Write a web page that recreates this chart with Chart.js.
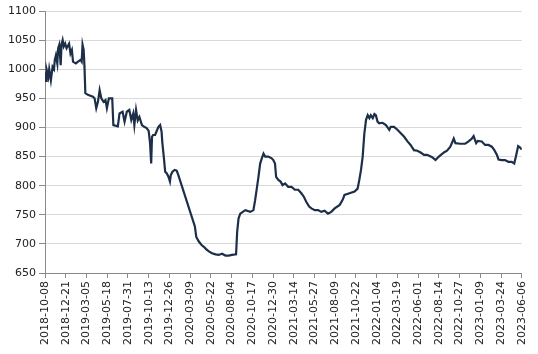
<!DOCTYPE html>
<html>
<head>
<meta charset="utf-8">
<script src="https://cdn.jsdelivr.net/npm/chart.js@4.4.1/dist/chart.umd.min.js"></script>
<style>
  html, body { margin: 0; padding: 0; background: #fff; }
  #chart { display: block; }
</style>
</head>
<body>
<canvas id="chart" width="538" height="354"></canvas>
<script>
// tick labels on the date axis (every 74 days)
const tickDates = [
  "2018-10-08", "2018-12-21", "2019-03-05", "2019-05-18", "2019-07-31", "2019-10-13",
  "2019-12-26", "2020-03-09", "2020-05-22", "2020-08-04", "2020-10-17", "2020-12-30",
  "2021-03-14", "2021-05-27", "2021-08-09", "2021-10-22", "2022-01-04", "2022-03-19",
  "2022-06-01", "2022-08-14", "2022-10-27", "2023-01-09", "2023-03-24", "2023-06-06"
];

const dates = [
  "2018-10-08", "2018-10-12", "2018-10-14", "2018-10-20", "2018-10-23", "2018-10-29",
  "2018-11-04", "2018-11-09", "2018-11-12", "2018-11-16", "2018-11-21", "2018-11-24",
  "2018-11-28", "2018-12-03", "2018-12-06", "2018-12-10", "2018-12-14", "2018-12-19",
  "2018-12-24", "2019-01-02", "2019-01-07", "2019-01-12", "2019-01-16", "2019-01-26",
  "2019-02-03", "2019-02-12", "2019-02-16", "2019-02-19", "2019-02-23", "2019-02-26",
  "2019-03-01", "2019-03-10", "2019-03-28", "2019-04-03", "2019-04-09", "2019-04-15",
  "2019-04-21", "2019-04-27", "2019-05-05", "2019-05-12", "2019-05-17", "2019-05-24",
  "2019-06-05", "2019-06-09", "2019-06-25", "2019-07-01", "2019-07-12", "2019-07-19",
  "2019-07-27", "2019-08-05", "2019-08-12", "2019-08-19", "2019-08-23", "2019-08-29",
  "2019-09-04", "2019-09-10", "2019-09-19", "2019-09-27", "2019-10-06", "2019-10-13",
  "2019-10-18", "2019-10-22", "2019-10-25", "2019-10-29", "2019-11-05", "2019-11-10",
  "2019-11-17", "2019-11-23", "2019-11-28", "2019-12-01", "2019-12-06", "2019-12-11",
  "2019-12-17", "2019-12-23", "2019-12-28", "2019-12-31", "2020-01-06", "2020-01-14",
  "2020-01-21", "2020-01-27", "2020-03-26", "2020-03-31", "2020-04-09", "2020-04-19",
  "2020-04-27", "2020-05-05", "2020-05-15", "2020-05-26", "2020-06-08", "2020-06-19",
  "2020-07-01", "2020-07-13", "2020-07-25", "2020-08-05", "2020-08-20", "2020-08-24",
  "2020-08-29", "2020-09-04", "2020-09-22", "2020-10-10", "2020-10-21", "2020-10-27",
  "2020-11-02", "2020-11-08", "2020-11-14", "2020-11-20", "2020-11-26", "2020-12-02",
  "2020-12-13", "2020-12-25", "2020-12-31", "2021-01-06", "2021-01-10", "2021-01-18",
  "2021-01-26", "2021-02-02", "2021-02-11", "2021-02-22", "2021-03-06", "2021-03-18",
  "2021-03-30", "2021-04-10", "2021-04-19", "2021-04-28", "2021-05-08", "2021-05-16",
  "2021-05-28", "2021-06-09", "2021-06-20", "2021-07-02", "2021-07-14", "2021-07-26",
  "2021-08-07", "2021-08-25", "2021-09-05", "2021-09-11", "2021-09-29", "2021-10-17",
  "2021-10-28", "2021-11-03", "2021-11-09", "2021-11-15", "2021-11-21", "2021-11-27",
  "2021-12-03", "2021-12-09", "2021-12-14", "2021-12-21", "2021-12-27", "2022-01-01",
  "2022-01-07", "2022-01-13", "2022-01-25", "2022-02-06", "2022-02-18", "2022-02-23",
  "2022-03-07", "2022-03-19", "2022-03-31", "2022-04-12", "2022-04-24", "2022-05-05",
  "2022-05-17", "2022-05-29", "2022-06-10", "2022-06-22", "2022-07-03", "2022-07-21",
  "2022-08-02", "2022-08-14", "2022-09-01", "2022-09-12", "2022-09-24", "2022-10-06",
  "2022-10-12", "2022-10-29", "2022-11-16", "2022-11-28", "2022-12-10", "2022-12-16",
  "2022-12-25", "2022-12-31", "2023-01-14", "2023-01-26", "2023-02-07", "2023-02-19",
  "2023-02-28", "2023-03-09", "2023-03-15", "2023-03-26", "2023-04-07", "2023-04-19",
  "2023-05-01", "2023-05-10", "2023-05-16", "2023-05-24", "2023-05-30", "2023-06-06"
];

const values = [
  995, 980, 999, 987, 1000, 981,
  1004, 1000, 1016, 1024, 1010, 1036,
  1042, 1007, 1042, 1050, 1039, 1044,
  1036, 1044, 1027, 1033, 1013, 1010,
  1013, 1016, 1013, 1042, 1033, 1004,
  959, 956, 953, 950, 933, 944,
  964, 950, 944, 947, 933, 950,
  950, 904, 902, 924, 927, 910,
  927, 930, 913, 924, 904, 930,
  912, 918, 904, 901, 899, 894,
  873, 838, 884, 887, 887, 893,
  901, 904, 893, 873, 850, 824,
  821, 815, 807, 818, 824, 827,
  826, 818, 730, 712, 704, 698,
  695, 691, 687, 684, 682, 681,
  683, 680, 680, 681, 682, 721,
  744, 752, 758, 755, 758, 775,
  795, 815, 838, 847, 855, 850,
  850, 847, 844, 838, 815, 810,
  807, 801, 804, 798, 798, 793,
  793, 787, 781, 772, 764, 761,
  758, 758, 755, 757, 752, 755,
  761, 767, 776, 784, 787, 790,
  795, 810, 827, 850, 890, 913,
  921, 916, 921, 916, 923, 921,
  910, 907, 908, 904, 896, 901,
  901, 896, 890, 884, 876, 870,
  861, 860, 857, 853, 853, 849,
  844, 850, 857, 860, 867, 881,
  873, 872, 872, 876, 881, 885,
  873, 877, 876, 870, 870, 867,
  861, 853, 845, 844, 844, 841,
  841, 838, 850, 868, 866, 862
];

const yMin = 650;
const yMax = 1100;
const yStep = 50;

const startMs = Date.parse(tickDates[0]);
function dayOf(s) {
  return Math.round((Date.parse(s) - startMs) / 86400000);
}

const tickDays = tickDates.map(dayOf);
const points = dates.map((d, i) => ({ x: dayOf(d), y: values[i] }));

const ctx = document.getElementById('chart').getContext('2d');

new Chart(ctx, {
  type: 'line',
  data: {
    datasets: [{
      data: points,
      borderColor: '#1d2f48',
      borderWidth: 2.2,
      pointRadius: 0,
      tension: 0,
      fill: false
    }]
  },
  options: {
    responsive: false,
    animation: false,
    layout: { padding: { top: 11, right: 13, left: 0, bottom: 0 } },
    plugins: {
      legend: { display: false },
      tooltip: { enabled: false }
    },
    scales: {
      x: {
        type: 'linear',
        min: tickDays[0],
        max: tickDays[tickDays.length - 1],
        afterBuildTicks: (scale) => {
          scale.ticks = tickDays.map(v => ({ value: v }));
        },
        afterFit: (scale) => { scale.height = 81; },
        ticks: {
          autoSkip: false,
          maxRotation: 90,
          minRotation: 90,
          padding: 3,
          color: '#222',
          font: { family: 'DejaVu Sans', size: 11 },
          callback: (v) => {
            const i = tickDays.indexOf(v);
            return i >= 0 ? tickDates[i] : '';
          }
        },
        grid: {
          drawOnChartArea: false,
          drawTicks: true,
          color: 'rgba(0,0,0,0)',
          tickLength: 5,
          tickColor: '#8a8a8a'
        },
        border: { color: '#8a8a8a', width: 1 }
      },
      y: {
        min: yMin,
        max: yMax,
        afterFit: (scale) => { scale.width = 45; },
        ticks: {
          stepSize: yStep,
          padding: 3,
          color: '#222',
          font: { family: 'DejaVu Sans', size: 11 },
          callback: (v) => String(v)
        },
        grid: {
          color: '#d9d9d9',
          tickColor: '#8a8a8a',
          tickLength: 6
        },
        border: { color: '#8a8a8a', width: 1 }
      }
    }
  }
});
</script>
</body>
</html>
